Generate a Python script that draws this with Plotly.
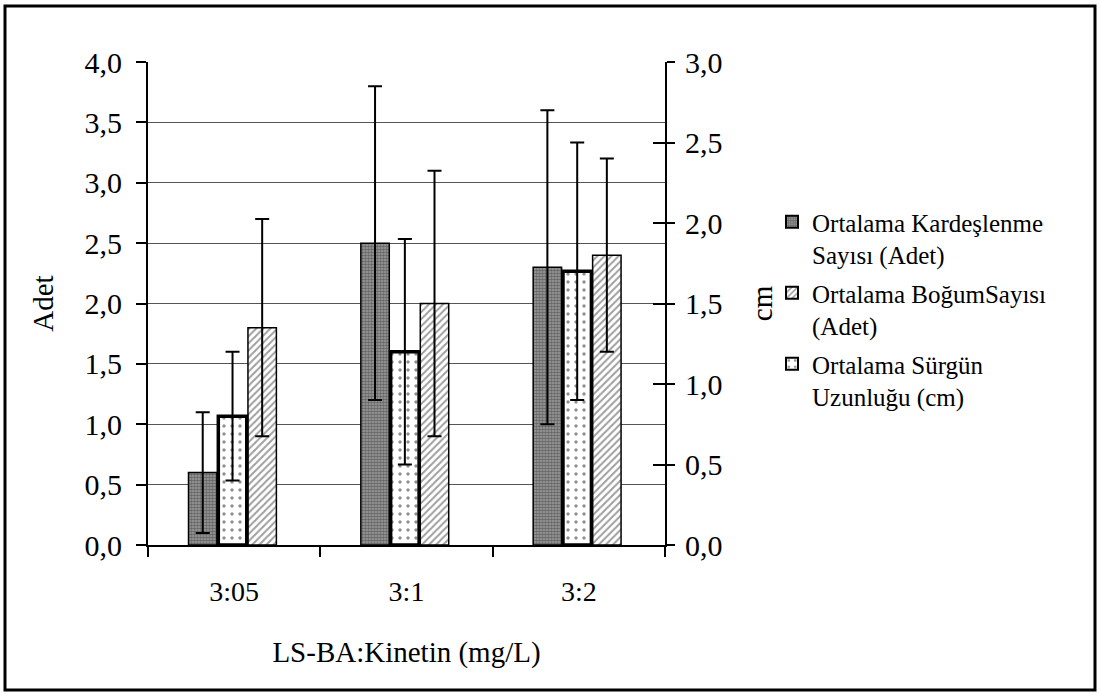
import plotly.graph_objects as go

categories = ["3:05", "3:1", "3:2"]

kardes_vals = [0.6, 2.5, 2.3]
kardes_err = [0.5, 1.3, 1.3]

bogum_vals = [1.8, 2.0, 2.4]
bogum_err = [0.9, 1.1, 0.8]

surgun_vals = [0.8, 1.2, 1.7]
surgun_err = [0.4, 0.7, 0.8]

left_ticks = [0.0, 0.5, 1.0, 1.5, 2.0, 2.5, 3.0, 3.5, 4.0]
right_ticks = [0.0, 0.5, 1.0, 1.5, 2.0, 2.5, 3.0]

FONT = "Liberation Serif"
W, H = 1101, 696
L, T = 148, 62
PR, PB = 665, 545
R, B = W - PR, H - PB
pw, ph = PR - L, PB - T

def px_x(px):
    return (px - L) / pw

def px_y(py):
    return (PB - py) / ph

err_style = dict(type="data", symmetric=True, color="black", thickness=2, width=7)
bw = 0.165

fig = go.Figure()
fig.add_trace(go.Bar(
    x=categories, y=kardes_vals, name="Ortalama Kardeşlenme<br>Sayısı (Adet)",
    width=bw, offset=-0.265, yaxis="y", legendrank=1, legendgroup="a",
    marker=dict(color="#909090", line=dict(color="black", width=1.5),
                pattern=dict(shape=".", fgcolor="#2a2a2a", bgcolor="#a0a0a0", size=3, solidity=0.6)),
    error_y=dict(array=kardes_err, **err_style),
))
fig.add_trace(go.Bar(
    x=categories, y=bogum_vals, name="Ortalama BoğumSayısı<br>(Adet)",
    width=bw, offset=0.08, yaxis="y", legendrank=2, legendgroup="b",
    marker=dict(color="white", line=dict(color="black", width=1.5),
                pattern=dict(shape="/", fgcolor="#3c3c3c", bgcolor="white", size=5, solidity=0.4)),
    error_y=dict(array=bogum_err, **err_style),
))
fig.add_trace(go.Bar(
    x=categories, y=surgun_vals, name="Ortalama Sürgün<br>Uzunluğu (cm)",
    width=bw, offset=-0.092, yaxis="y2", legendrank=3, legendgroup="c",
    marker=dict(color="white", line=dict(color="black", width=3.5),
                pattern=dict(shape=".", fgcolor="#222222", bgcolor="white", size=8, solidity=0.14)),
    error_y=dict(array=surgun_err, **err_style),
))
# invisible helper so the inner-tick axis is rendered
fig.add_trace(go.Scatter(x=categories, y=[0, 0, 0], yaxis="y3", mode="markers",
                         marker=dict(opacity=0), showlegend=False, hoverinfo="skip"))

tickfont = dict(family=FONT, size=30, color="black")
titlefont = dict(family=FONT, size=29, color="black")

fig.update_layout(
    width=W, height=H,
    margin=dict(l=L, r=R, t=T, b=B, autoexpand=False),
    paper_bgcolor="white", plot_bgcolor="white",
    separators=",.",
    barmode="overlay",
    font=dict(family=FONT, color="black"),
    xaxis=dict(
        type="category", range=[-0.5, 2.5], tickson="boundaries",
        ticks="outside", ticklen=10, tickwidth=1.5, tickcolor="black",
        showline=True, linecolor="black", linewidth=2, showgrid=False,
        tickfont=dict(family=FONT, size=28, color="black"), ticklabelstandoff=20,
        title=dict(text="LS-BA:Kinetin (mg/L)", font=titlefont, standoff=36),
    ),
    yaxis=dict(
        range=[0, 4], tickvals=left_ticks, tickformat=".1f",
        ticks="outside", ticklen=10, tickwidth=1.5, tickcolor="black",
        showline=True, linecolor="black", linewidth=2,
        showgrid=True, gridcolor="#555555", gridwidth=1, zeroline=False,
        tickfont=tickfont, ticklabelstandoff=8,
        title=dict(text="Adet", font=titlefont, standoff=22),
    ),
    yaxis2=dict(
        range=[0, 3], tickvals=right_ticks, tickformat=".1f", overlaying="y", side="right",
        ticks="outside", ticklen=8, tickwidth=1.5, tickcolor="black",
        showline=True, linecolor="black", linewidth=2, showgrid=False, zeroline=False,
        tickfont=tickfont, ticklabelstandoff=4,
        title=dict(text="cm", font=titlefont, standoff=30),
    ),
    yaxis3=dict(
        range=[0, 3], tickvals=right_ticks, overlaying="y", side="right",
        ticks="inside", ticklen=12, tickwidth=1.5, tickcolor="black",
        showticklabels=False, showline=False, showgrid=False, zeroline=False,
    ),
    legend=dict(
        x=px_x(772), y=px_y(199), xanchor="left", yanchor="top",
        font=dict(family=FONT, size=25, color="black"),
        bgcolor="rgba(0,0,0,0)", itemsizing="constant", tracegroupgap=3, valign="top",
    ),
    showlegend=True,
    shapes=[dict(type="rect", xref="paper", yref="paper",
                 x0=px_x(5), x1=px_x(1095), y0=px_y(690), y1=px_y(6),
                 line=dict(color="black", width=3), fillcolor="rgba(0,0,0,0)", layer="above")],
)

fig.write_html("out.html", config={"displayModeBar": False},
               post_script="document.body.style.margin='0';")
